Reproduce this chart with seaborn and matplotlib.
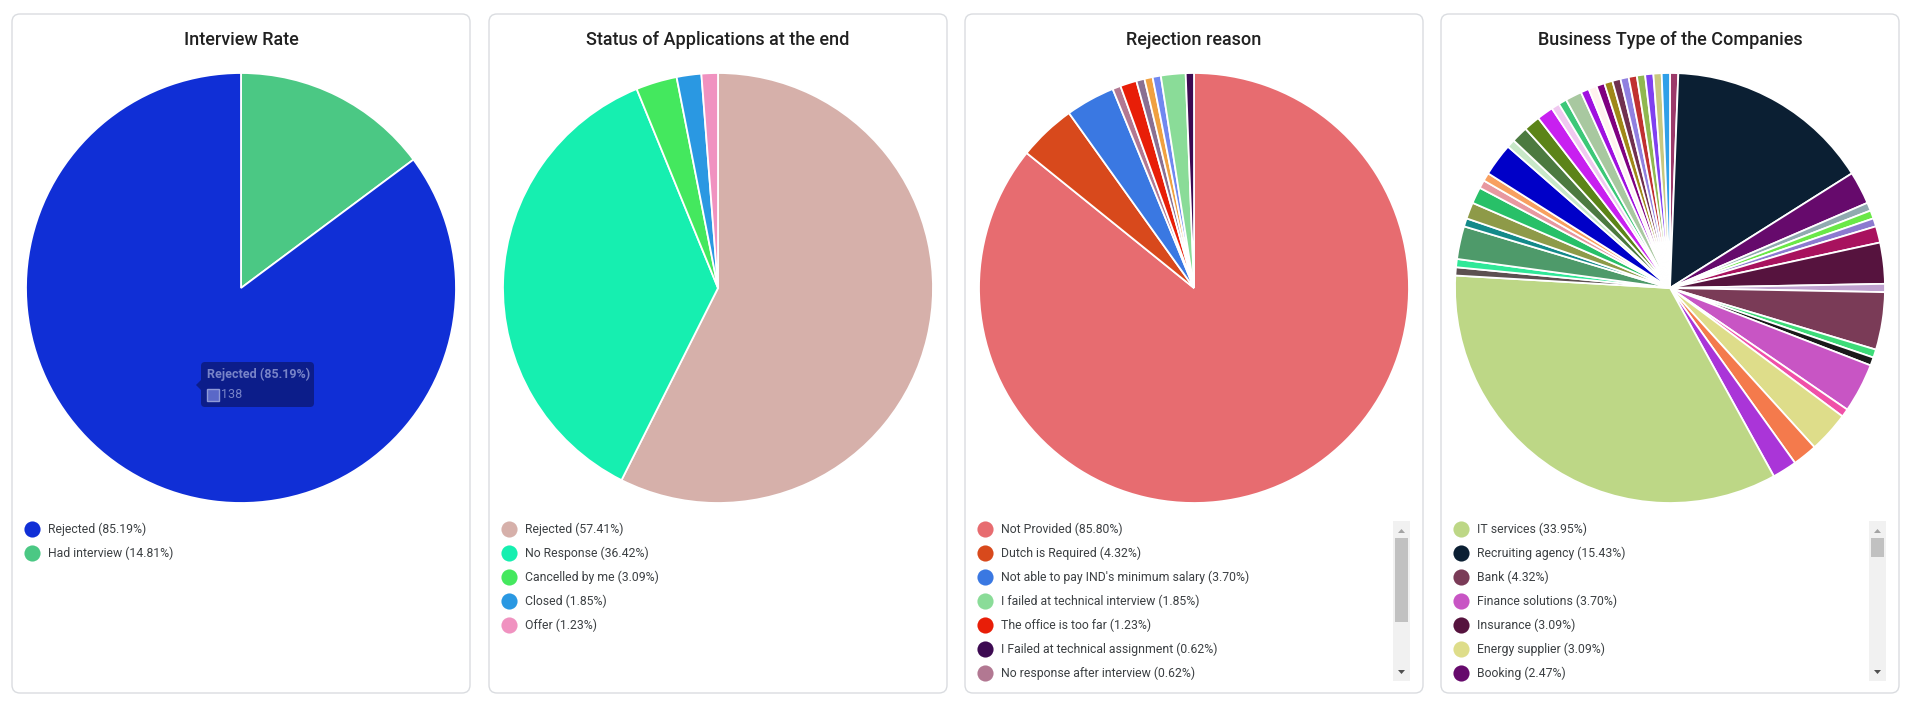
import matplotlib
matplotlib.use("Agg")
import matplotlib.pyplot as plt
from matplotlib.patches import FancyBboxPatch, Rectangle, Polygon
import seaborn as sns

# ---- data (counts, 162 applications) ----
interview_labels = ["Had interview", "Rejected"]
interview_counts = [24, 138]
interview_colors = ["#4bc884", "#102fd6"]
interview_legend = ["Rejected", "Had interview"]

status_labels = ["Rejected", "No Response", "Cancelled by me", "Closed", "Offer"]
status_counts = [93, 59, 5, 3, 2]
status_colors = ["#d6b0aa", "#16efb0", "#44e85e", "#2a98e2", "#f092c0"]
status_legend = ["Rejected", "No Response", "Cancelled by me", "Closed", "Offer"]

reason_labels = ["Not Provided", "Dutch is Required", "Not able to pay IND's minimum salary",
                 "No response after interview", "The office is too far", "Other reason 1",
                 "Other reason 2", "Other reason 3", "I failed at technical interview",
                 "I Failed at technical assignment"]
reason_counts = [139, 7, 6, 1, 2, 1, 1, 1, 3, 1]
reason_colors = ["#e76c70", "#d8491c", "#3a78e2", "#b27892", "#e81e08", "#8a7092",
                 "#f0a040", "#7088f0", "#8adc98", "#3d0a52"]
reason_legend = ["Not Provided", "Dutch is Required", "Not able to pay IND's minimum salary",
                 "I failed at technical interview", "The office is too far",
                 "I Failed at technical assignment", "No response after interview"]

business_labels = ["Other type 1", "Recruiting agency", "Booking", "Other type 2", "Other type 3",
                   "Other type 4", "Other type 5", "Insurance", "Other type 6", "Bank",
                   "Other type 7", "Other type 8", "Finance solutions", "Other type 9",
                   "Energy supplier", "Other type 10", "Other type 11", "IT services"] + \
                  ["Other type %d" % i for i in range(12, 39)]
business_counts = [1, 25, 4, 1, 1, 1, 2, 5, 1, 7, 1, 1, 6, 1, 5, 3, 3, 55,
                   1, 1, 4, 1, 2, 2, 1, 1, 4, 1, 2, 2, 2, 1, 1, 2, 1, 1, 1, 1, 1, 1, 1, 1, 1, 1, 1]
business_colors = ["#9c3a6a", "#0b1f33", "#660a6c", "#90aab0", "#6ae848", "#8c7ad0", "#a8125e",
                   "#56133e", "#c0a2d0", "#7a3b57", "#3ddc78", "#1a1a1a", "#c855c4", "#f050a8",
                   "#dedd8a", "#f47a4c", "#aa35d8", "#bdd786",
                   "#5c5050", "#30e898", "#4e9a6a", "#138a8a", "#8e9a48", "#28c068", "#e898a0",
                   "#f8a060", "#0000c8", "#c8e8c8", "#4c7a40", "#5c8418", "#c820f0", "#f0c8f0",
                   "#3cc878", "#a8c8a0", "#a010e0", "#fff2ee", "#800080", "#a08818", "#703050",
                   "#9080e0", "#c03030", "#90b850", "#8040f0", "#c8c880", "#30a0e8"]
business_legend = ["IT services", "Recruiting agency", "Bank", "Finance solutions",
                   "Insurance", "Energy supplier", "Booking"]

titles = ["Interview Rate", "Status of Applications at the end",
          "Rejection reason", "Business Type of the Companies"]

charts = [
    (interview_labels, interview_counts, interview_colors, interview_legend),
    (status_labels, status_counts, status_colors, status_legend),
    (reason_labels, reason_counts, reason_colors, reason_legend),
    (business_labels, business_counts, business_colors, business_legend),
]

# ---- layout (pixels) ----
W, H = 1913, 705
card_x = [12, 489, 965, 1441]
card_w = 458
card_top, card_bottom = 14, 693
pie_cy, pie_r = 288, 215
legend_y0, legend_dy = 529, 24

sns.set_style("white")
plt.rcParams["font.family"] = ["Roboto", "DejaVu Sans"]

fig = plt.figure(figsize=(W / 100, H / 100), dpi=100)
fig.patch.set_facecolor("white")

bg = fig.add_axes([0, 0, 1, 1])
bg.set_xlim(0, W)
bg.set_ylim(H, 0)
bg.axis("off")

for i, (labels, counts, colors, legend) in enumerate(charts):
    x0 = card_x[i]
    bg.add_patch(FancyBboxPatch((x0, card_top), card_w, card_bottom - card_top,
                                boxstyle="round,pad=0,rounding_size=8",
                                fc="white", ec="#dadce0", lw=1))
    bg.text(x0 + card_w / 2, 40, titles[i], ha="center", va="center",
            fontsize=13, fontweight="medium", color="#212121")

    # pie
    cx = x0 + card_w / 2
    ax = fig.add_axes([(cx - pie_r) / W, (H - pie_cy - pie_r) / H, 2 * pie_r / W, 2 * pie_r / H])
    ax.pie(counts, colors=colors, startangle=90, counterclock=False, radius=1,
           wedgeprops=dict(edgecolor="white", linewidth=1.3))
    ax.set_xlim(-1, 1)
    ax.set_ylim(-1, 1)
    ax.set_aspect("equal")
    ax.axis("off")

    # legend
    total = sum(counts)
    lookup = dict(zip(labels, counts))
    cmap = dict(zip(labels, colors))
    for k, name in enumerate(legend):
        y = legend_y0 + k * legend_dy
        bg.scatter([x0 + 20], [y], s=135, color=cmap[name], zorder=3, linewidths=0)
        bg.text(x0 + 36, y, "%s (%.2f%%)" % (name, lookup[name] / total * 100),
                ha="left", va="center", fontsize=8.8, color="#3c4043")

    # scrollbar for long legends
    if len(labels) > len(legend):
        sx = x0 + card_w - 30
        bg.add_patch(Rectangle((sx, 521), 17, 160, fc="#f1f1f1", ec="none"))
        thumb_h = 84 if i == 2 else 19
        bg.add_patch(Rectangle((sx + 2, 538), 13, thumb_h, fc="#c1c1c1", ec="none"))
        bg.add_patch(Polygon([(sx + 5, 533), (sx + 12, 533), (sx + 8.5, 529)], fc="#a3a3a3", ec="none"))
        bg.add_patch(Polygon([(sx + 5, 670), (sx + 12, 670), (sx + 8.5, 674)], fc="#505050", ec="none"))

# tooltip on the first pie
ov = fig.add_axes([0, 0, 1, 1])
ov.set_xlim(0, W)
ov.set_ylim(H, 0)
ov.axis("off")
ov.patch.set_alpha(0)
tip_name = interview_legend[0]
tip_count = dict(zip(interview_labels, interview_counts))[tip_name]
ov.add_patch(FancyBboxPatch((201, 362), 113, 45, boxstyle="round,pad=0,rounding_size=4",
                            fc="#0c1d8a", ec="none"))
ov.add_patch(Polygon([(201, 380), (196, 385), (201, 390)], fc="#0c1d8a", ec="none"))
ov.text(207, 374, "%s (%.2f%%)" % (tip_name, tip_count / sum(interview_counts) * 100),
        ha="left", va="center", fontsize=9, fontweight="bold", color="#7884c8")
ov.add_patch(Rectangle((207, 389), 12, 12, fc="#5a68c8", ec="#8f9ad8", lw=1))
ov.text(221, 395, str(tip_count), ha="left", va="center", fontsize=9, color="#7884c8")

fig.savefig("out.png", dpi=100)
